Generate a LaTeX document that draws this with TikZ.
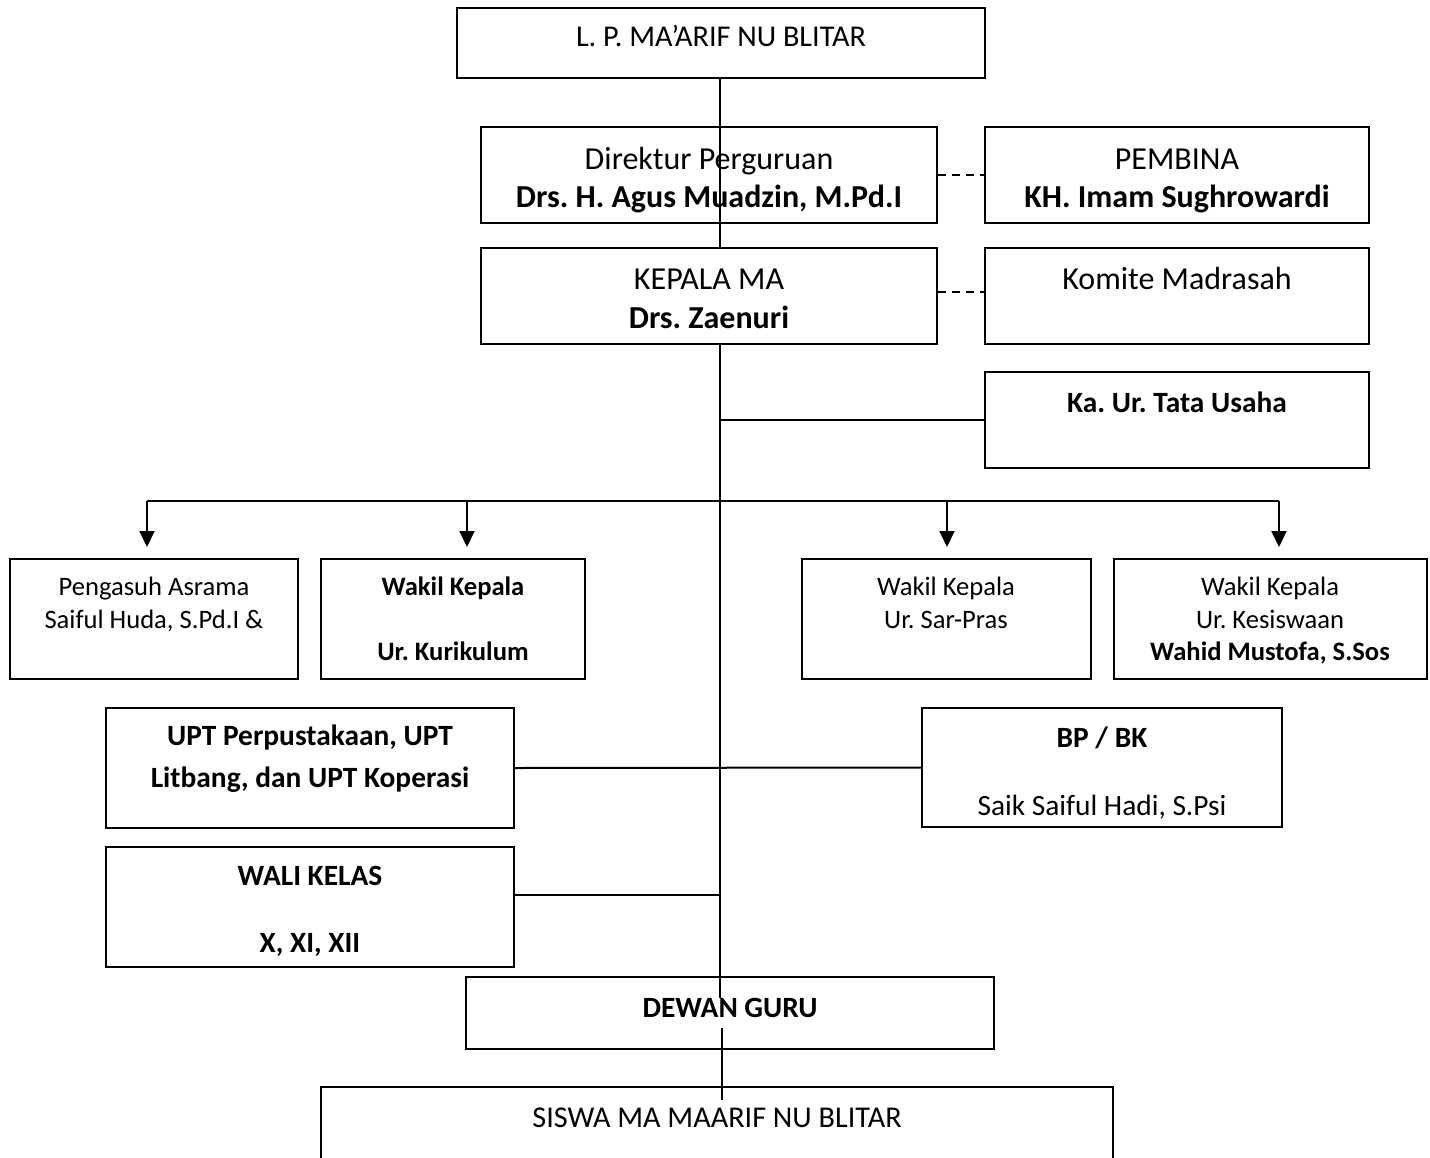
\documentclass[tikz,border=0pt]{standalone}
\usepackage{fontspec}
\setmainfont{Carlito}
\usetikzlibrary{fit,arrows.meta}
\frenchspacing
\begin{document}
\begin{tikzpicture}[x=0.5pt,y=-0.5pt,
  box/.style={draw, line width=1pt, inner sep=0pt},
  conn/.style={line width=1pt},
  dashconn/.style={line width=1pt, dash pattern=on 4pt off 3pt},
  arr/.style={line width=1pt, -{Triangle[width=7.5pt,length=8pt]}, shorten >=5.5pt},
  lg/.style={anchor=base, inner sep=0pt, font=\fontsize{16}{19}\selectfont},
  md/.style={anchor=base, inner sep=0pt, font=\fontsize{14.7}{17}\selectfont},
  tp/.style={anchor=base, inner sep=0pt, font=\fontsize{15.1}{18}\selectfont},
  sm/.style={anchor=base, inner sep=0pt, font=\fontsize{13.3}{16}\selectfont}]
\useasboundingbox (0,0) rectangle (1430,1157);
\clip (0,0) rectangle (1430,1157);
% boxes
\node[box, fit={(457,8) (985,78)}] (lp) {};
\node[box, fit={(481,127) (937,223)}] (dir) {};
\node[box, fit={(985,127) (1369,223)}] (pemb) {};
\node[box, fit={(481,248) (937,344)}] (kep) {};
\node[box, fit={(985,248) (1369,344)}] (kom) {};
\node[box, fit={(985,372) (1369,468)}] (tu) {};
\node[box, fit={(10,559) (298,679)}] (peng) {};
\node[box, fit={(321,559) (585,679)}] (kur) {};
\node[box, fit={(802,559) (1091,679)}] (sar) {};
\node[box, fit={(1114,559) (1427,679)}] (kes) {};
\node[box, fit={(106,708) (514,828)}] (upt) {};
\node[box, fit={(922,708) (1282,827)}] (bp) {};
\node[box, fit={(106,847) (514,967)}] (wali) {};
\node[box, fit={(466,977) (994,1049)}] (dewan) {};
\node[box, fit={(321,1087) (1113,1240)}] (siswa) {};
% texts
\node[tp] (lpT) at (721,46) {L. P. MA’ARIF NU BLITAR};
\node[lg] (dirT1) at (709,169) {Direktur Perguruan};
\node[lg] (dirT2) at (709,207) {\textbf{Drs. H. Agus Muadzin, M.Pd.I}};
\node[lg] (pembT1) at (1177,169) {PEMBINA};
\node[lg] (pembT2) at (1177,207) {\textbf{KH. Imam Sughrowardi}};
\node[lg] (kepT1) at (709,289) {KEPALA MA};
\node[lg] (kepT2) at (709,328) {\textbf{Drs. Zaenuri}};
\node[lg] (komT) at (1177,289) {Komite Madrasah};
\node[md] (tuT) at (1177,412) {\textbf{Ka. Ur. Tata Usaha}};
\node[sm] (pengT1) at (154,595) {Pengasuh Asrama};
\node[sm] (pengT2) at (154,628) {Saiful Huda, S.Pd.I \&};
\node[sm] (kurT1) at (453,595) {\textbf{Wakil Kepala}};
\node[sm] (kurT2) at (453,660) {\textbf{Ur. Kurikulum}};
\node[sm] (sarT1) at (946,595) {Wakil Kepala};
\node[sm] (sarT2) at (946,628) {Ur. Sar-Pras};
\node[sm] (kesT1) at (1270,595) {Wakil Kepala};
\node[sm] (kesT2) at (1270,628) {Ur. Kesiswaan};
\node[sm] (kesT3) at (1270,660) {\textbf{Wahid Mustofa, S.Sos}};
\node[md] (uptT1) at (310,745) {\textbf{UPT Perpustakaan, UPT}};
\node[md] (uptT2) at (310,787) {\textbf{Litbang, dan UPT Koperasi}};
\node[md] (bpT1) at (1102,747) {\textbf{BP / BK}};
\node[md] (bpT2) at (1102,815) {Saik Saiful Hadi, S.Psi};
\node[md] (waliT1) at (310,885) {\textbf{WALI KELAS}};
\node[md] (waliT2) at (310,952) {\textbf{X, XI, XII}};
\node[md] (dewanT) at (730,1017) {\textbf{DEWAN GURU}};
\node[tp] (siswaT) at (717,1127) {SISWA MA MAARIF NU BLITAR};
% connectors
\coordinate (tend) at (720,998);
\coordinate (barL) at (147,501);
\coordinate (barR) at (1279,501);
\coordinate (a2) at (467,501);
\coordinate (a3) at (947,501);
\coordinate (wj) at (720,895);
\coordinate (kd) at (960,292);
\coordinate (s1) at (722,1028);
\coordinate (s2) at (722,1100);
\draw[conn] (lp.south -| tend) -- (kep.north -| tend);
\draw[conn] (kep.south -| tend) -- (tend);
\draw[conn] (tend |- tu.west) -- (tu.west);
\draw[conn] (barL) -- (barR);
\draw[arr] (barL) -- (barL |- peng.north);
\draw[arr] (a2) -- (a2 |- kur.north);
\draw[arr] (a3) -- (a3 |- sar.north);
\draw[arr] (barR) -- (barR |- kes.north);
\draw[conn] (upt.east) -- (bp.west);
\draw[conn] (wj -| wali.east) -- (wj);
\draw[dashconn] (dir.east) -- (pemb.west);
\draw[dashconn] (kd -| kep.east) -- (kd -| kom.west);
\draw[conn] (s1) -- (s2);
\end{tikzpicture}
\end{document}
